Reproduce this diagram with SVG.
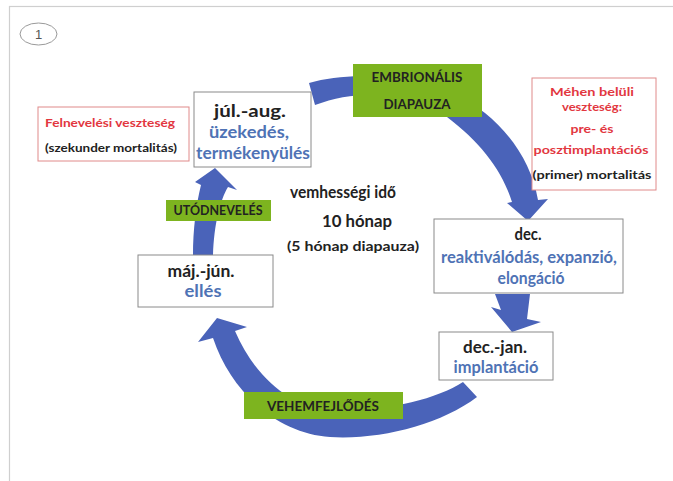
<svg xmlns="http://www.w3.org/2000/svg" width="673" height="481" viewBox="0 0 673 481">
<style>
text{font-family:Lato,"Liberation Sans",sans-serif;font-weight:bold;text-anchor:middle}
.box{fill:#fff;stroke:#8a8a8a;stroke-width:1}
.rbox{fill:#fff;stroke:#e08a8a;stroke-width:1}
.gbox{fill:#7db41f;stroke:none}
.arrow{fill:#4a63b9;stroke:none}
.k{fill:#222}
.b{fill:#4f73b5}
.r{fill:#e2373f}
.L{font-size:17px}
.S{font-size:12px}
.G{font-size:14px}
</style>
<rect x="0" y="0" width="673" height="481" fill="#fff"/>
<rect x="9.5" y="6.5" width="700" height="500" fill="none" stroke="#cfcfcf" stroke-width="1.2"/>
<g id="badge">
<ellipse cx="38.5" cy="34" rx="18.5" ry="11" fill="#fff" stroke="#9a9a9a" stroke-width="1"/>
<text x="38.5" y="39" style="font-family:'Liberation Sans',sans-serif;font-weight:normal;font-size:13px;fill:#555">1</text>
</g>
<g id="connectors">
<path class="arrow" d="M309,83 C360,68 440,78 485,113 C512,135 532,165 538,200 L548,199 L528,221 L507,203 L512,202 C502,170 480,142 447,117 C410,92 360,88 315,105 Z"/>
<polygon class="arrow" points="495,294 530,294 527,319 541,322 512,332 491,307 501,310"/>
<path class="arrow" d="M477,397 C440,425 380,440 330,437 C280,434 232,395 213,338 L198,342 L217,318 L247,327 L235,331 C255,378 292,408 330,410 C380,413 435,400 463,382 Z"/>
<path class="arrow" d="M193,255 L213,255 C214,225 220,200 228,187 L237,190 L215,168 L195,182 L201,185 C196,205 193,230 193,255 Z"/>
</g>
<g id="felneveles">
<rect class="rbox" x="38" y="107" width="151" height="54"/>
<text class="S r" x="110" y="127" textLength="130" lengthAdjust="spacingAndGlyphs">Felnevelési veszteség</text>
<text class="S k" x="111" y="152" textLength="132" lengthAdjust="spacingAndGlyphs">(szekunder mortalitás)</text>
</g>
<g id="jul-aug">
<rect class="box" x="194" y="92" width="117" height="75"/>
<text class="L k" x="250" y="117" textLength="72" lengthAdjust="spacingAndGlyphs">júl.-aug.</text>
<text class="L b" x="249" y="138" textLength="80" lengthAdjust="spacingAndGlyphs">üzekedés,</text>
<text class="L b" x="253" y="159" textLength="114" lengthAdjust="spacingAndGlyphs">termékenyülés</text>
</g>
<g id="embrionalis">
<rect class="gbox" x="353" y="64" width="129" height="53"/>
<text class="G k" x="417" y="82" textLength="91" lengthAdjust="spacingAndGlyphs">EMBRIONÁLIS</text>
<text class="G k" x="417" y="109" textLength="67" lengthAdjust="spacingAndGlyphs">DIAPAUZA</text>
</g>
<g id="mehen">
<rect class="rbox" x="532" y="78" width="124" height="112"/>
<text class="S r" x="592" y="96" textLength="84" lengthAdjust="spacingAndGlyphs">Méhen belüli</text>
<text class="S r" x="592" y="111" textLength="60" lengthAdjust="spacingAndGlyphs">veszteség:</text>
<text class="S r" x="592" y="133" textLength="43" lengthAdjust="spacingAndGlyphs">pre- és</text>
<text class="S r" x="591" y="154" textLength="115" lengthAdjust="spacingAndGlyphs">posztimplantációs</text>
<text class="S k" x="592" y="179" textLength="119" lengthAdjust="spacingAndGlyphs">(primer) mortalitás</text>
</g>
<g id="center">
<text class="k" style="font-size:17.5px" x="343" y="198" textLength="106" lengthAdjust="spacingAndGlyphs">vemhességi idő</text>
<text class="k" style="font-size:17.5px" x="357" y="227" textLength="70" lengthAdjust="spacingAndGlyphs">10 hónap</text>
<text class="k" style="font-size:13px" x="353" y="251" textLength="132" lengthAdjust="spacingAndGlyphs">(5 hónap diapauza)</text>
</g>
<g id="dec">
<rect class="box" x="434" y="219" width="189" height="74"/>
<text class="L k" x="528" y="240" textLength="27" lengthAdjust="spacingAndGlyphs">dec.</text>
<text class="L b" x="529" y="263" textLength="176" lengthAdjust="spacingAndGlyphs">reaktiválódás, expanzió,</text>
<text class="L b" x="531" y="284" textLength="67" lengthAdjust="spacingAndGlyphs">elongáció</text>
</g>
<g id="dec-jan">
<rect class="box" x="439" y="332" width="114" height="48"/>
<text class="L k" x="495" y="353" textLength="64" lengthAdjust="spacingAndGlyphs">dec.-jan.</text>
<text class="L b" x="496" y="373" textLength="85" lengthAdjust="spacingAndGlyphs">implantáció</text>
</g>
<g id="vehemfejlodes">
<rect class="gbox" x="244" y="392" width="159" height="27"/>
<text class="G k" x="323" y="411" textLength="112" lengthAdjust="spacingAndGlyphs">VEHEMFEJLŐDÉS</text>
</g>
<g id="maj-jun">
<rect class="box" x="138" y="255" width="135" height="52"/>
<text class="L k" x="201" y="277" textLength="67" lengthAdjust="spacingAndGlyphs">máj.-jún.</text>
<text class="L b" x="203" y="297" textLength="37" lengthAdjust="spacingAndGlyphs">ellés</text>
</g>
<g id="utodneveles">
<rect class="gbox" x="166" y="200" width="105" height="21"/>
<text class="G k" x="218" y="215" textLength="89" lengthAdjust="spacingAndGlyphs">UTÓDNEVELÉS</text>
</g>
</svg>
